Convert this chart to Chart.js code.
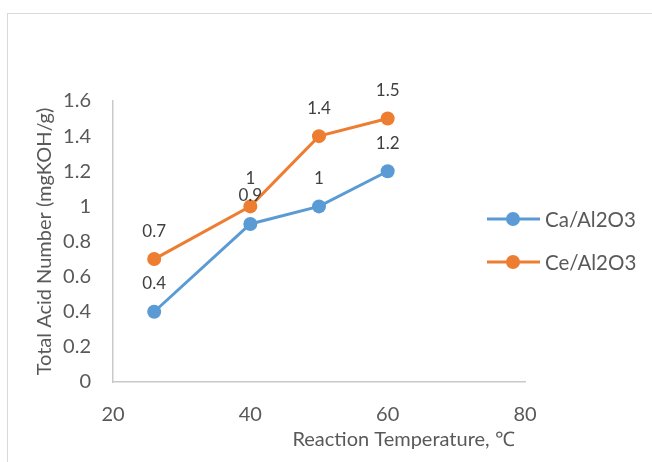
<!DOCTYPE html>
<html>
<head>
<meta charset="utf-8">
<script src="https://cdn.jsdelivr.net/npm/chart.js@4.4.1/dist/chart.umd.min.js"></script>
<style>
  html, body { margin: 0; padding: 0; background: #fff; }
  #wrap { width: 652px; height: 462px; }
</style>
</head>
<body>
<div id="wrap"><canvas id="chart" width="652" height="462"></canvas></div>
<script>
const temps = [26, 40, 50, 60];
const caValues = [0.4, 0.9, 1, 1.2];
const ceValues = [0.7, 1, 1.4, 1.5];
const seriesNames = ['Ca/Al2O3', 'Ce/Al2O3'];
const xTicks = [20, 40, 60, 80];
const yTicks = [0, 0.2, 0.4, 0.6, 0.8, 1, 1.2, 1.4, 1.6];

const FONT = 'Lato, "Open Sans", sans-serif';

function toPoints(values) {
  return temps.map((t, i) => ({ x: t, y: values[i] }));
}

// outer frame, like the Word/Excel chart border
const framePlugin = {
  id: 'frame',
  beforeDraw(chart) {
    const ctx = chart.ctx;
    ctx.save();
    ctx.strokeStyle = '#d9d9d9';
    ctx.lineWidth = 1;
    ctx.strokeRect(7.5, 13.5, 700, 520);
    ctx.restore();
  }
};

// value labels above each point
const labelPlugin = {
  id: 'valueLabels',
  afterDatasetsDraw(chart) {
    const ctx = chart.ctx;
    ctx.save();
    ctx.font = '17px ' + FONT;
    ctx.fillStyle = '#404040';
    ctx.textAlign = 'center';
    ctx.textBaseline = 'middle';
    chart.data.datasets.forEach((ds, di) => {
      chart.getDatasetMeta(di).data.forEach((pt, i) => {
        ctx.fillText(String(ds.data[i].y), pt.x, pt.y - 28);
      });
    });
    ctx.restore();
  }
};

// legend at right: line with marker, overlapping the plot width like Excel
const legendPlugin = {
  id: 'sideLegend',
  afterDraw(chart) {
    const ctx = chart.ctx;
    const ys = [219, 262];
    ctx.save();
    chart.data.datasets.forEach((ds, di) => {
      const y = ys[di];
      ctx.strokeStyle = ds.borderColor;
      ctx.lineWidth = 3;
      ctx.beginPath();
      ctx.moveTo(487, y);
      ctx.lineTo(540, y);
      ctx.stroke();
      ctx.fillStyle = ds.backgroundColor;
      ctx.beginPath();
      ctx.arc(513, y, 7, 0, Math.PI * 2);
      ctx.fill();
      ctx.fillStyle = '#595959';
      ctx.font = '20.5px ' + FONT;
      ctx.textAlign = 'left';
      ctx.textBaseline = 'middle';
      ctx.fillText(ds.label, 545, y + 1);
    });
    ctx.restore();
  }
};

const ctx = document.getElementById('chart').getContext('2d');
new Chart(ctx, {
  type: 'line',
  data: {
    datasets: [
      {
        label: seriesNames[0],
        data: toPoints(caValues),
        borderColor: '#5b9bd5',
        backgroundColor: '#5b9bd5',
        borderWidth: 3,
        pointRadius: 7,
        pointHoverRadius: 7,
        pointBorderWidth: 0
      },
      {
        label: seriesNames[1],
        data: toPoints(ceValues),
        borderColor: '#ed7d31',
        backgroundColor: '#ed7d31',
        borderWidth: 3,
        pointRadius: 7,
        pointHoverRadius: 7,
        pointBorderWidth: 0
      }
    ]
  },
  options: {
    responsive: false,
    animation: false,
    layout: { padding: { left: 0, top: 101, right: 127, bottom: 0 } },
    plugins: {
      legend: { display: false },
      tooltip: { enabled: false }
    },
    scales: {
      x: {
        type: 'linear',
        min: 20,
        max: 80,
        afterBuildTicks: (scale) => { scale.ticks = xTicks.map(v => ({ value: v })); },
        grid: { display: false, drawTicks: false },
        border: { display: true, color: '#c9c9c9', width: 1.5 },
        ticks: {
          color: '#595959', font: { family: FONT, size: 20 }, padding: 21, maxRotation: 0,
          callback: (v) => String(v)
        },
        title: {
          display: true,
          text: 'Reaction Temperature, ℃  ',
          align: 'end',
          color: '#595959',
          font: { family: FONT, size: 20 },
          padding: { top: 0, bottom: 10 }
        },
        afterFit: (scale) => { scale.height = 462 - 382; }
      },
      y: {
        min: 0,
        max: 1.6,
        afterBuildTicks: (scale) => { scale.ticks = yTicks.map(v => ({ value: v })); },
        grid: { display: false, drawTicks: false },
        border: { display: true, color: '#c9c9c9', width: 1.5 },
        ticks: {
          color: '#595959', font: { family: FONT, size: 20 }, padding: 22,
          callback: (v) => String(v)
        },
        title: {
          display: true,
          text: 'Total Acid Number (mgKOH/g)',
          color: '#595959',
          font: { family: FONT, size: 20 },
          padding: { top: 33, bottom: 0 }
        },
        afterFit: (scale) => { scale.width = 113; }
      }
    }
  },
  plugins: [framePlugin, labelPlugin, legendPlugin]
});
</script>
</body>
</html>
